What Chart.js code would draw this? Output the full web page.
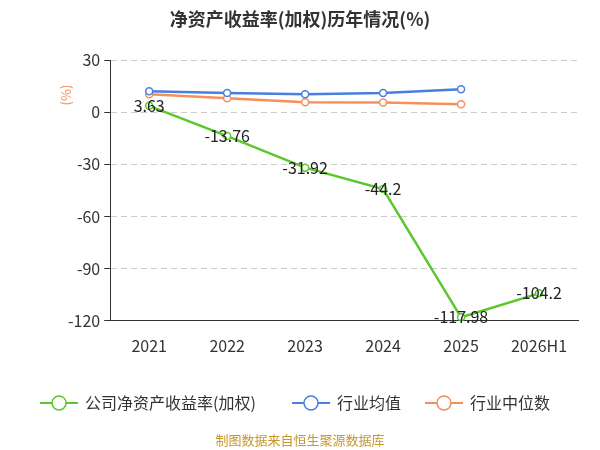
<!DOCTYPE html>
<html>
<head>
<meta charset="utf-8">
<script src="https://cdn.jsdelivr.net/npm/chart.js@4/dist/chart.umd.min.js"></script>
<style>
  html, body { margin: 0; padding: 0; background: #fff; }
  #wrap { width: 600px; height: 450px; }
</style>
</head>
<body>
<div id="wrap"><canvas id="c" width="600" height="450"></canvas></div>
<script>
  var years = ['2021', '2022', '2023', '2024', '2025', '2026H1'];
  var roe = [3.63, -13.76, -31.92, -44.2, -117.98, -104.2];
  var industryAvg = [12, 11, 10.3, 11, 13.2, null];
  var industryMedian = [10.3, 8, 5.7, 5.5, 4.6, null];
  var yTicks = [30, 0, -30, -60, -90, -120];

  var FONT = '"Noto Sans CJK SC", "Noto Sans", sans-serif';

  // value labels, title, legend, unit and footer
  var decorPlugin = {
    id: 'decor',
    afterDatasetsDraw: function (chart) {
      var ctx = chart.ctx;
      var meta = chart.getDatasetMeta(0);
      ctx.save();
      ctx.font = '16px ' + FONT;
      ctx.fillStyle = '#222';
      ctx.textAlign = 'center';
      ctx.textBaseline = 'middle';
      meta.data.forEach(function (pt, i) {
        ctx.fillText(String(roe[i]), pt.x, pt.y);
      });

      ctx.font = 'bold 18px ' + FONT;
      ctx.fillStyle = '#333';
      ctx.fillText('净资产收益率(加权)历年情况(%)', 300, 19);

      ctx.font = '13px ' + FONT;
      ctx.fillStyle = '#c8962e';
      ctx.fillText('制图数据来自恒生聚源数据库', 300, 440);

      // legend
      var items = [[40, 0], [292, 1], [425, 2]];
      ctx.font = '16px ' + FONT;
      ctx.textAlign = 'left';
      items.forEach(function (it) {
        var ds = chart.data.datasets[it[1]];
        var x = it[0], y = 403;
        ctx.strokeStyle = ds.borderColor;
        ctx.lineWidth = 2;
        ctx.beginPath(); ctx.moveTo(x, y); ctx.lineTo(x + 38, y); ctx.stroke();
        ctx.fillStyle = '#fff';
        ctx.lineWidth = 1.5;
        ctx.beginPath(); ctx.arc(x + 19, y, 7, 0, Math.PI * 2); ctx.fill(); ctx.stroke();
        ctx.fillStyle = '#333';
        ctx.fillText(ds.label, x + 45, y);
      });

      ctx.fillStyle = '#f08a4b';
      ctx.textAlign = 'center';
      ctx.translate(66, 95);
      ctx.rotate(-Math.PI / 2);
      ctx.font = '13px ' + FONT;
      ctx.fillText('(%)', 0, 0);
      ctx.restore();
    }
  };

  function series(label, data, color, width) {
    return {
      label: label,
      data: data,
      borderColor: color,
      backgroundColor: '#fff',
      borderWidth: width,
      pointRadius: 3.5,
      pointBorderWidth: 1.5,
      pointBackgroundColor: '#fff',
      pointBorderColor: color,
      tension: 0
    };
  }

  new Chart(document.getElementById('c').getContext('2d'), {
    type: 'line',
    data: {
      labels: years,
      datasets: [
        series('公司净资产收益率(加权)', roe, '#5ac72a', 2.5),
        series('行业均值', industryAvg, '#4a7fe0', 2.5),
        series('行业中位数', industryMedian, '#f5905a', 2.5)
      ]
    },
    options: {
      responsive: false,
      animation: false,
      layout: { padding: { left: 64, right: 22, top: 60, bottom: 86 } },
      plugins: {
        title: { display: false },
        legend: { display: false },
        tooltip: { enabled: false }
      },
      scales: {
        x: {
          offset: true,
          grid: { display: false },
          border: { color: '#333' },
          ticks: { font: { family: FONT, size: 16 }, color: '#333', padding: 8 }
        },
        y: {
          min: -120,
          max: 30,
          afterBuildTicks: function (axis) {
            axis.ticks = yTicks.map(function (v) { return { value: v }; });
          },
          grid: { color: '#ccc', tickColor: '#333', tickLength: 6 },
          border: { dash: [6, 4], color: '#333' },
          ticks: { font: { family: FONT, size: 16 }, color: '#333', padding: 4 }
        }
      }
    },
    plugins: [decorPlugin]
  });
</script>
</body>
</html>
